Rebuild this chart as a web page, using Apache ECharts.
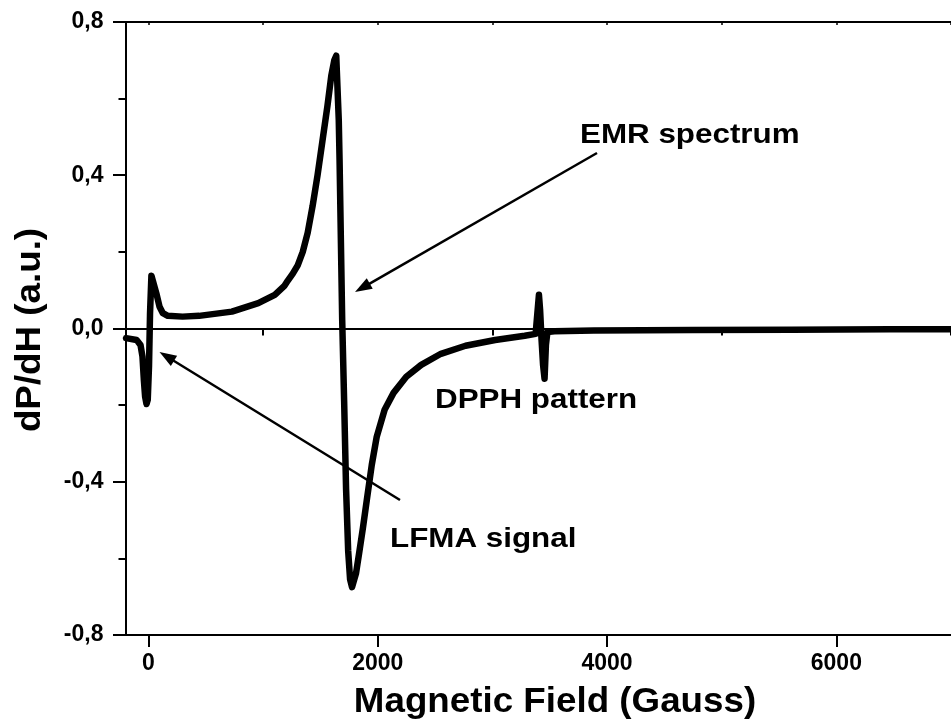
<!DOCTYPE html>
<html>
<head>
<meta charset="utf-8">
<script src="https://cdn.jsdelivr.net/npm/echarts@6/dist/echarts.min.js"></script>
<style>html,body{margin:0;padding:0;background:#fff;}#c{width:951px;height:724px;}</style>
</head>
<body>
<div id="c"></div>
<script>
// Magnetic field (Gauss)
const fieldGauss = [-195, -103, -69, -52, -40, -29, -17, -6, 5, 14, 26, 40, 69, 97, 126, 169, 298, 442, 728, 958,
  1102, 1188, 1216, 1259, 1302, 1346, 1389, 1432, 1475, 1518, 1561, 1595, 1621, 1638, 1660, 1667, 1690, 1707, 1724,
  1742, 1759, 1776, 1793, 1810, 1836, 1871, 1905, 1948, 1991, 2060, 2138, 2249, 2379, 2551, 2766, 3024, 3282, 3377,
  3394, 3406, 3416, 3429, 3442, 3455, 3467, 3480, 3541, 3885, 4746, 5607, 6467, 7000];
// dP/dH (a.u.)
const dPdH = [-0.025, -0.030, -0.043, -0.073, -0.134, -0.178, -0.197, -0.186, -0.099, 0.040, 0.138, 0.123, 0.092,
  0.057, 0.040, 0.033, 0.031, 0.033, 0.044, 0.066, 0.088, 0.112, 0.125, 0.143, 0.165, 0.200, 0.250, 0.320, 0.400,
  0.490, 0.580, 0.660, 0.700, 0.712, 0.545, 0.441, 0.023, -0.190, -0.420, -0.580, -0.655, -0.675, -0.672, -0.640,
  -0.590, -0.520, -0.447, -0.356, -0.283, -0.212, -0.168, -0.126, -0.095, -0.066, -0.045, -0.030, -0.019, -0.014,
  -0.010, 0.088, 0.049, -0.030, -0.095, -0.131, -0.043, -0.009, -0.007, -0.005, -0.004, -0.003, -0.002, -0.002];
const xMajorTicks = [0, 2000, 4000, 6000];
const xMinorTicks = [1000, 3000, 5000, 7000];
const xTopTicks = [0, 1000, 2000, 3000, 4000, 5000, 6000, 7000];
const yTickValues = [-0.8, -0.4, 0, 0.4, 0.8];
const yTickLabels = ['-0,8', '-0,4', '0,0', '0,4', '0,8'];
const annotations = ['EMR spectrum', 'DPPH pattern', 'LFMA signal'];
const xTitle = 'Magnetic Field (Gauss)';
const yTitle = 'dP/dH (a.u.)';

const chart = echarts.init(document.getElementById('c'), null, {renderer: 'canvas'});
const FONT = '"Liberation Sans", Arial, sans-serif';
const black = '#000';

function arrow(x1, y1, x2, y2) {
  const a = Math.atan2(y2 - y1, x2 - x1), c = Math.cos(a), s = Math.sin(a);
  const L = 17, W = 6;
  return [
    {type: 'line', silent: true, shape: {x1: x1, y1: y1, x2: x2 - c * L * 0.7, y2: y2 - s * L * 0.7},
      style: {stroke: black, lineWidth: 2.5}},
    {type: 'polygon', silent: true, shape: {points: [[x2, y2],
      [x2 - c * L + s * W, y2 - s * L - c * W], [x2 - c * L - s * W, y2 - s * L + c * W]]},
      style: {fill: black}}
  ];
}
function label(text, x, y, size, rot, sx, align) {
  const al = align || 'left';
  return {type: 'text', silent: true, x: x, y: y, rotation: rot || 0, scaleX: sx || 1,
    style: {text: text, font: 'bold ' + size + 'px ' + FONT, fill: black,
      align: al, verticalAlign: 'middle', textAlign: al, textVerticalAlign: 'middle'}};
}

const xBase = {
  type: 'value', min: -200, max: 7000, splitNumber: 4,
  splitLine: {show: false}
};

chart.setOption({
  animation: false,
  backgroundColor: '#fff',
  grid: {left: 125.5, right: -11, top: 22, bottom: 89, containLabel: false},
  xAxis: [
    Object.assign({}, xBase, {
      position: 'bottom',
      axisLine: {show: true, onZero: false, lineStyle: {color: black, width: 2}},
      axisTick: {show: true, length: 12, customValues: xMajorTicks, lineStyle: {color: black, width: 2}},
      axisLabel: {show: true, margin: 17, fontSize: 23, fontWeight: 'bold', fontFamily: FONT, color: black,
        customValues: xMajorTicks, formatter: v => String(v)}
    }),
    Object.assign({}, xBase, {
      position: 'bottom',
      axisLine: {show: false},
      axisTick: {show: true, length: 7, customValues: xMinorTicks, lineStyle: {color: black, width: 2}},
      axisLabel: {show: false}
    }),
    Object.assign({}, xBase, {
      position: 'top',
      axisLine: {show: true, onZero: false, lineStyle: {color: black, width: 2}},
      axisTick: {show: true, inside: true, length: 3, customValues: xTopTicks, lineStyle: {color: black, width: 1.5}},
      axisLabel: {show: false}
    })
  ],
  yAxis: {
    type: 'value', min: -0.8, max: 0.8, interval: 0.4,
    splitLine: {show: false},
    axisLine: {show: true, onZero: false, lineStyle: {color: black, width: 2}},
    axisTick: {show: true, length: 12.5, lineStyle: {color: black, width: 2}},
    minorTick: {show: true, splitNumber: 2, length: 7, lineStyle: {color: black, width: 2}},
    axisLabel: {margin: 22, fontSize: 23, fontWeight: 'bold', fontFamily: FONT, color: black,
      formatter: v => {
        const i = yTickValues.findIndex(t => Math.abs(t - v) < 1e-6);
        return i >= 0 ? yTickLabels[i] : '';
      }}
  },
  series: [{
    type: 'line', xAxisIndex: 0, showSymbol: false, smooth: false, z: 3,
    data: fieldGauss.map((g, i) => [g, dPdH[i]]),
    lineStyle: {color: black, width: 6.5, join: 'round', cap: 'round'},
    markLine: {silent: true, symbol: ['none', 'none'], label: {show: false}, animation: false,
      lineStyle: {color: black, width: 2, type: 'solid'}, data: [{yAxis: 0}]}
  }],
  graphic: [
    label(annotations[0], 580, 135, 28, 0, 1.12),
    label(annotations[1], 435, 400, 28, 0, 1.12),
    label(annotations[2], 390, 539, 28, 0, 1.12),
    ...arrow(597, 153, 355, 292),
    ...arrow(400, 500, 159.5, 352),
    label(xTitle, 555, 702.5, 35, 0, 1.05, 'center'),
    label(yTitle, 30, 330, 35, Math.PI / 2, 1.05, 'center')
  ]
});
</script>
</body>
</html>
